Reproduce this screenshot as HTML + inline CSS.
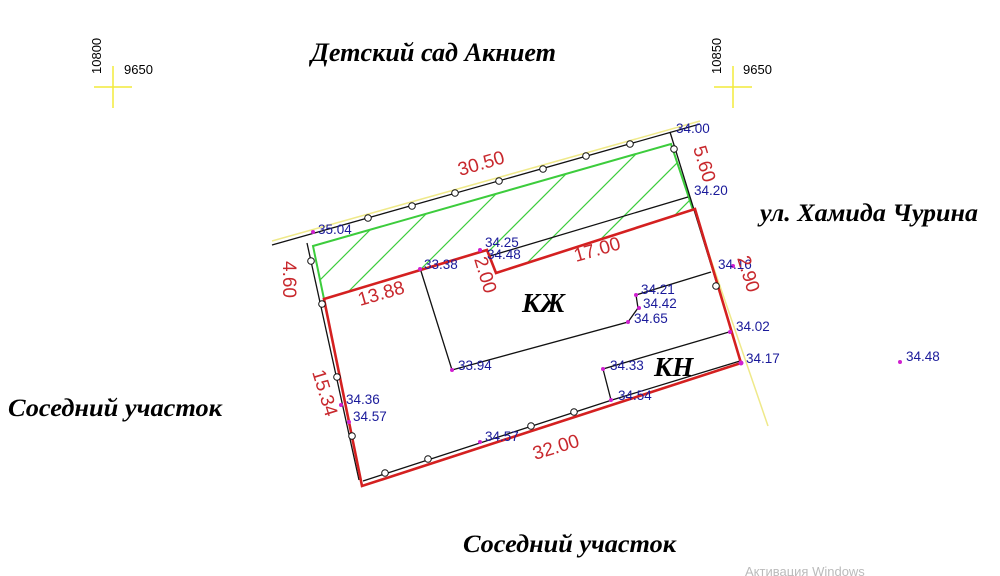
<!DOCTYPE html>
<html><head><meta charset="utf-8"><style>
html,body{margin:0;padding:0;background:#fff;width:1000px;height:576px;overflow:hidden}
svg{display:block}
.b{font-family:"Liberation Sans",sans-serif;font-size:13.5px;fill:#1a1a9a}
.r{font-family:"Liberation Sans",sans-serif;font-size:19px;fill:#c8282d}
.t{font-family:"Liberation Serif",serif;font-weight:bold;font-style:italic;fill:#000}
.k{font-family:"Liberation Sans",sans-serif;font-size:13px;fill:#000}
</style></head><body>
<svg width="1000" height="576" viewBox="0 0 1000 576" xmlns="http://www.w3.org/2000/svg">
<defs>
<clipPath id="g"><polygon points="313,246 671,144 693,210 496,273 487,250 324,299"/></clipPath>
</defs>
<g stroke="#f2ea3a" stroke-width="1.5">
<line x1="94" y1="87" x2="132" y2="87"/><line x1="113" y1="66" x2="113" y2="108"/>
<line x1="714" y1="87" x2="752" y2="87"/><line x1="733" y1="66" x2="733" y2="108"/>
</g>
<text class="k" transform="translate(101,74) rotate(-90)">10800</text>
<text class="k" x="124" y="74">9650</text>
<text class="k" transform="translate(721,74) rotate(-90)">10850</text>
<text class="k" x="743" y="74">9650</text>
<g stroke="#efe98a" stroke-width="1.5" fill="none">
<line x1="272" y1="241" x2="700" y2="121"/>
<line x1="698" y1="222" x2="768" y2="426"/>
</g>
<g clip-path="url(#g)" stroke="#3ccc3c" stroke-width="1.2">
<line x1="280" y1="320" x2="470" y2="130"/>
<line x1="320" y1="320" x2="510" y2="130"/>
<line x1="370" y1="320" x2="560" y2="130"/>
<line x1="420" y1="320" x2="610" y2="130"/>
<line x1="470" y1="320" x2="660" y2="130"/>
<line x1="520" y1="320" x2="710" y2="130"/>
<line x1="570" y1="320" x2="760" y2="130"/>
<line x1="620" y1="320" x2="810" y2="130"/>
<line x1="670" y1="320" x2="860" y2="130"/>
<line x1="230" y1="320" x2="420" y2="130"/>
</g>
<polyline points="324,299 313,246 671,144 693,210" fill="none" stroke="#3ccc3c" stroke-width="2"/>
<g stroke="#111" stroke-width="1.3" fill="none">
<line x1="272" y1="245" x2="700" y2="124"/>
<line x1="307" y1="243" x2="359" y2="480"/>
<polyline points="363,481 612,400 740,361"/>
<line x1="670" y1="132" x2="741" y2="362"/>
<polyline points="420,268 452,370 628,322 638,308 636,295 711,272"/>
<line x1="490" y1="256" x2="688" y2="197"/>
<polyline points="611,400 603,369 729,332"/>
</g>
<polygon points="324,299 487,250 496,273 695,209 741,363 362,486" fill="none" stroke="#d42020" stroke-width="2.6" stroke-linejoin="miter"/>
<g fill="#fff" stroke="#111" stroke-width="1">
<circle cx="368" cy="218" r="3.3"/><circle cx="412" cy="206" r="3.3"/><circle cx="455" cy="193" r="3.3"/>
<circle cx="499" cy="181" r="3.3"/><circle cx="543" cy="169" r="3.3"/><circle cx="586" cy="156" r="3.3"/>
<circle cx="630" cy="144" r="3.3"/><circle cx="674" cy="149" r="3.3"/><circle cx="716" cy="286" r="3.3"/>
<circle cx="311" cy="261" r="3.3"/><circle cx="322" cy="304" r="3.3"/><circle cx="337" cy="377" r="3.3"/>
<circle cx="352" cy="436" r="3.3"/><circle cx="385" cy="473" r="3.3"/><circle cx="428" cy="459" r="3.3"/>
<circle cx="531" cy="426" r="3.3"/><circle cx="574" cy="412" r="3.3"/>
</g>
<g fill="#d020d0">
<circle cx="313" cy="232" r="2"/><circle cx="480" cy="250" r="2"/><circle cx="420" cy="269" r="2"/>
<circle cx="452" cy="370" r="2"/><circle cx="636" cy="295" r="2"/><circle cx="639" cy="308" r="2"/>
<circle cx="628" cy="322" r="2"/><circle cx="603" cy="369" r="2"/><circle cx="611" cy="400" r="2"/>
<circle cx="480" cy="442" r="2"/><circle cx="341" cy="405" r="2"/><circle cx="349" cy="422" r="2"/>
<circle cx="741" cy="363" r="2.5"/><circle cx="730" cy="332" r="2"/><circle cx="733" cy="266" r="2"/>
<circle cx="900" cy="362" r="2"/>
</g>
<text class="b" x="676" y="133">34.00</text>
<text class="b" x="694" y="195">34.20</text>
<text class="b" x="318" y="234">35.04</text>
<text class="b" x="485" y="247">34.25</text>
<text class="b" x="487" y="259">34.48</text>
<text class="b" x="424" y="269">33.38</text>
<text class="b" x="718" y="269">34.16</text>
<text class="b" x="641" y="294">34.21</text>
<text class="b" x="643" y="308">34.42</text>
<text class="b" x="634" y="323">34.65</text>
<text class="b" x="736" y="331">34.02</text>
<text class="b" x="746" y="363">34.17</text>
<text class="b" x="906" y="361">34.48</text>
<text class="b" x="458" y="370">33.94</text>
<text class="b" x="610" y="370">34.33</text>
<text class="b" x="618" y="400">34.54</text>
<text class="b" x="346" y="404">34.36</text>
<text class="b" x="353" y="421">34.57</text>
<text class="b" x="485" y="441">34.57</text>
<text class="r" transform="translate(460,176) rotate(-16)">30.50</text>
<text class="r" transform="translate(576,262) rotate(-16)">17.00</text>
<text class="r" transform="translate(360,306) rotate(-16)">13.88</text>
<text class="r" transform="translate(535,460) rotate(-17)">32.00</text>
<text class="r" transform="translate(283,261) rotate(90)">4.60</text>
<text class="r" transform="translate(312,372) rotate(73)">15.34</text>
<text class="r" transform="translate(474,259) rotate(73)">2.00</text>
<text class="r" transform="translate(693,148) rotate(73)">5.60</text>
<text class="r" transform="translate(737,258) rotate(73)">2.90</text>
<text class="t" x="311" y="61" font-size="26" textLength="245" lengthAdjust="spacingAndGlyphs">Детский сад Акниет</text>
<text class="t" x="760" y="221" font-size="25" textLength="218" lengthAdjust="spacingAndGlyphs">ул. Хамида Чурина</text>
<text class="t" x="8" y="416" font-size="25" textLength="214" lengthAdjust="spacingAndGlyphs">Соседний участок</text>
<text class="t" x="463" y="552" font-size="25" textLength="213" lengthAdjust="spacingAndGlyphs">Соседний участок</text>
<text class="t" x="522" y="312" font-size="27">КЖ</text>
<text class="t" x="654" y="376" font-size="27">КН</text>
<text x="745" y="576" font-family="Liberation Sans,sans-serif" font-size="13" fill="#bbb">Активация Windows</text>
</svg>
</body></html>
